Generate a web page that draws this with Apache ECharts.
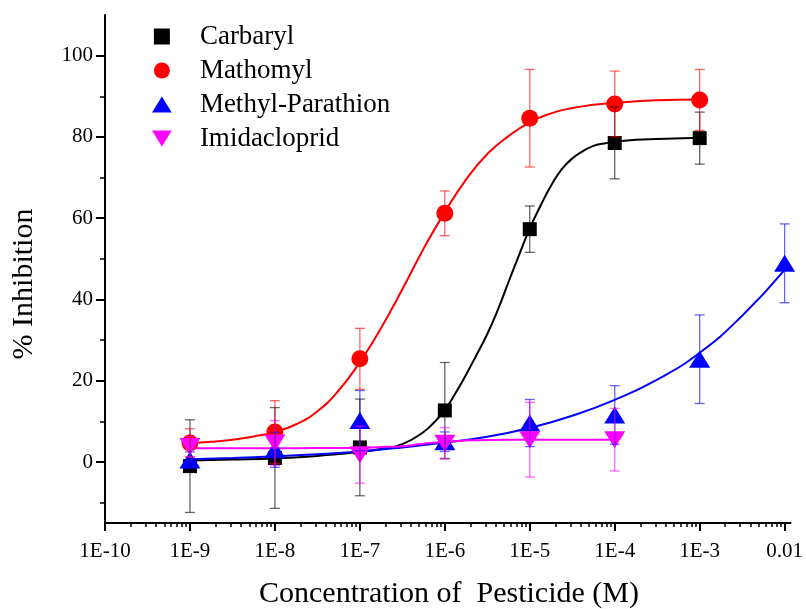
<!DOCTYPE html>
<html>
<head>
<meta charset="utf-8">
<script src="https://cdn.jsdelivr.net/npm/echarts@6/dist/echarts.min.js"></script>
<style>
  html, body { margin: 0; padding: 0; background: #fff; }
  #chart { width: 806px; height: 609px; }
</style>
</head>
<body>
<div id="chart"></div>
<script>
// Concentrations are given as decimal exponents (log10 of molar concentration).
const xMeasured = [-9, -8, -7, -6, -5, -4, -3];
const xMethyl = [-9, -8, -7, -6, -5, -4, -3, -2];
const xImid = [-9, -8, -7, -6, -5, -4];

// Mean % inhibition and error (+/-) per compound
const carbaryl = [-1.0, 1.0, 3.6, 12.7, 57.3, 78.5, 79.7];
const carbarylErr = [11.4, 12.4, 11.9, 11.8, 5.7, 8.8, 6.4];
const mathomyl = [4.7, 7.4, 25.4, 61.2, 84.6, 88.1, 89.1];
const mathomylErr = [3.5, 7.7, 7.5, 5.5, 12.0, 8.1, 7.5];
const methyl = [0.5, 3.0, 10.2, 5.0, 9.6, 11.6, 25.3, 48.9];
const methylErr = [2.0, 4.3, 7.4, 2.4, 5.8, 7.2, 10.9, 9.7];
const imid = [3.8, 4.7, 1.8, 4.6, 5.5, 5.5];
const imidErr = [2.5, 5.5, 7.0, 3.9, 9.2, 7.7];

// Fitted dose-response curves, sampled along the concentration axis
const carbarylFitX = [-9, -8.5, -8, -7.5, -7.25, -7, -6.75, -6.5, -6.25, -6.125, -6, -5.875, -5.75, -5.625, -5.5, -5.375, -5.25, -5.125, -5, -4.875, -4.75, -4.625, -4.5, -4.375, -4.25, -4.125, -4, -3.75, -3.5, -3];
const carbarylFitY = [0.4, 0.6, 0.9, 1.5, 2.0, 2.5, 3.2, 4.4, 7.4, 9.8, 12.8, 16.9, 21.5, 26.4, 31.5, 37.5, 44.3, 51.0, 57.5, 63.0, 68.0, 72.0, 74.7, 76.5, 77.8, 78.4, 78.8, 79.3, 79.5, 79.8];
const mathomylFitX = [-9, -8.75, -8.5, -8.25, -8, -7.75, -7.5, -7.25, -7, -6.75, -6.5, -6.25, -6, -5.75, -5.5, -5.25, -5, -4.75, -4.5, -4.25, -4, -3.5, -3];
const mathomylFitY = [4.7, 5.0, 5.5, 6.3, 7.4, 9.3, 12.5, 17.6, 24.6, 33.0, 42.5, 52.5, 61.5, 69.5, 75.8, 80.2, 83.6, 85.8, 87.1, 87.9, 88.4, 89.0, 89.2];
const methylFitX = [-9, -8.5, -8, -7.5, -7, -6.5, -6, -5.5, -5, -4.5, -4, -3.5, -3, -2.5, -2];
const methylFitY = [0.7, 1.0, 1.4, 1.9, 2.6, 3.6, 4.8, 6.2, 8.4, 11.4, 15.3, 20.3, 26.9, 36.0, 47.3];
const imidFitX = [-9, -8, -7.5, -7, -6.75, -6.5, -6.25, -6, -5.75, -5.5, -5, -4];
const imidFitY = [3.4, 3.4, 3.45, 3.5, 3.7, 3.9, 4.5, 5.0, 5.3, 5.45, 5.5, 5.5];

// Axis ticks
const xMajorTicks = [-10, -9, -8, -7, -6, -5, -4, -3, -2];
const yMajorTicks = [0, 20, 40, 60, 80, 100];
const yMinorTicks = [-10, 10, 30, 50, 70, 90];

const names = ['Carbaryl', 'Mathomyl', 'Methyl-Parathion', 'Imidacloprid'];
const colors = ['#000000', '#ff0000', '#0000ff', '#ff00ff'];
const barColors = ['rgba(0,0,0,0.6)', 'rgba(255,0,0,0.6)', 'rgba(0,0,255,0.6)', 'rgba(255,0,255,0.6)'];

// Logarithmic minor ticks (2..9 within each decade)
const xMinorTicks = [];
for (let d = -10; d < -2; d++) {
  for (let k = 2; k <= 9; k++) xMinorTicks.push(d + Math.log10(k));
}

const FONT = 'Liberation Serif';
const pairs = (xs, ys) => xs.map((x, i) => [x, ys[i]]);

function fitSeries(name, xs, ys, color) {
  return {
    type: 'line', name: name + ' fit', data: pairs(xs, ys),
    smooth: 0.5, symbol: 'none', z: 2, silent: true,
    lineStyle: { color: color, width: 2 }
  };
}

function pointSeries(name, xs, ys, color, symbol, size) {
  return {
    type: 'scatter', name: name, data: pairs(xs, ys),
    symbol: symbol, symbolSize: size, z: 3,
    itemStyle: { color: color, opacity: 1 }
  };
}

function errorSeries(name, xs, ys, errs, color) {
  return {
    type: 'custom', name: name + ' error', z: 4, silent: true,
    data: xs.map((x, i) => [x, ys[i], errs[i]]),
    renderItem: function (params, api) {
      const x = api.value(0), y = api.value(1), e = api.value(2);
      const hi = api.coord([x, y + e]);
      const lo = api.coord([x, y - e]);
      const cw = 5;
      const style = { stroke: color, lineWidth: 1.3, fill: null };
      return {
        type: 'group',
        children: [
          { type: 'line', shape: { x1: hi[0], y1: hi[1], x2: lo[0], y2: lo[1] }, style: style },
          { type: 'line', shape: { x1: hi[0] - cw, y1: hi[1], x2: hi[0] + cw, y2: hi[1] }, style: style },
          { type: 'line', shape: { x1: lo[0] - cw, y1: lo[1], x2: lo[0] + cw, y2: lo[1] }, style: style }
        ]
      };
    }
  };
}

const square = 'path://M0,0 L10,0 L10,10 L0,10 Z';
const triUp = 'path://M0,17 L10.5,0 L21,17 Z';
const triDown = 'path://M0,0 L21,0 L10.5,17 Z';

const chart = echarts.init(document.getElementById('chart'), null, { renderer: 'canvas' });

chart.setOption({
  animation: false,
  backgroundColor: '#ffffff',
  grid: { left: 105, right: 13, top: 15, bottom: 86, containLabel: false },
  legend: {
    data: names,
    orient: 'vertical',
    left: 147, top: 18,
    itemWidth: 66, itemHeight: 16, itemGap: 7,
    selectedMode: false,
    textStyle: { fontFamily: FONT, fontSize: 27, color: '#000', lineHeight: 26 }
  },
  xAxis: [
    {
      type: 'value', min: -10, max: -1.93,
      axisLine: { show: true, onZero: false, lineStyle: { color: '#000', width: 2 } },
      axisTick: { show: true, customValues: xMajorTicks, length: 8, lineStyle: { color: '#000', width: 2 } },
      axisLabel: {
        customValues: xMajorTicks, margin: 18,
        fontFamily: FONT, fontSize: 21, color: '#000',
        formatter: v => (v === -2 ? '0.01' : '1E' + v)
      },
      splitLine: { show: false }
    },
    {
      type: 'value', min: -10, max: -1.93, position: 'bottom', offset: 0,
      axisLine: { show: false, onZero: false },
      axisTick: { show: true, customValues: xMinorTicks, length: 4, lineStyle: { color: '#000', width: 1.5 } },
      axisLabel: { show: false },
      splitLine: { show: false }
    }
  ],
  yAxis: [
    {
      type: 'value', min: -15, max: 110,
      axisLine: { show: true, onZero: false, lineStyle: { color: '#000', width: 2 } },
      axisTick: { show: true, customValues: yMajorTicks, length: 9, lineStyle: { color: '#000', width: 2 } },
      axisLabel: {
        customValues: yMajorTicks, margin: 12,
        fontFamily: FONT, fontSize: 21, color: '#000'
      },
      splitLine: { show: false }
    },
    {
      type: 'value', min: -15, max: 110, position: 'left', offset: 0,
      axisLine: { show: false, onZero: false },
      axisTick: { show: true, customValues: yMinorTicks, length: 5, lineStyle: { color: '#000', width: 1.5 } },
      axisLabel: { show: false },
      splitLine: { show: false }
    }
  ],
  graphic: [
    {
      type: 'text', x: 449, y: 594,
      style: {
        text: 'Concentration of  Pesticide (M)', fill: '#000',
        font: '30px "' + FONT + '"', align: 'center', verticalAlign: 'middle',
        textAlign: 'center', textVerticalAlign: 'middle'
      }
    },
    {
      type: 'text', x: 24, y: 284, rotation: Math.PI / 2,
      style: {
        text: '% Inhibition', fill: '#000',
        font: '30px "' + FONT + '"', align: 'center', verticalAlign: 'middle',
        textAlign: 'center', textVerticalAlign: 'middle'
      }
    }
  ],
  series: [
    fitSeries(names[0], carbarylFitX, carbarylFitY, colors[0]),
    fitSeries(names[1], mathomylFitX, mathomylFitY, colors[1]),
    fitSeries(names[2], methylFitX, methylFitY, colors[2]),
    fitSeries(names[3], imidFitX, imidFitY, colors[3]),
    pointSeries(names[0], xMeasured, carbaryl, colors[0], square, 14),
    pointSeries(names[1], xMeasured, mathomyl, colors[1], 'circle', 17),
    pointSeries(names[2], xMethyl, methyl, colors[2], triUp, [21, 17]),
    pointSeries(names[3], xImid, imid, colors[3], triDown, [21, 17]),
    errorSeries(names[0], xMeasured, carbaryl, carbarylErr, barColors[0]),
    errorSeries(names[1], xMeasured, mathomyl, mathomylErr, barColors[1]),
    errorSeries(names[2], xMethyl, methyl, methylErr, barColors[2]),
    errorSeries(names[3], xImid, imid, imidErr, barColors[3])
  ]
});
</script>
</body>
</html>
